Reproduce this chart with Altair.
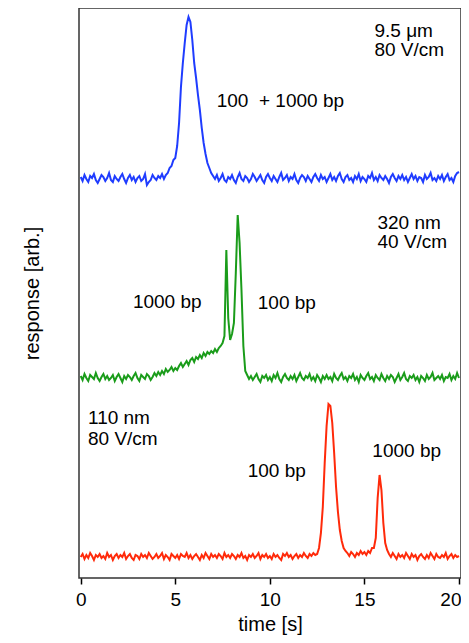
import altair as alt
import pandas as pd

# time grid (s), 0.0 .. 20.0 step 0.1
times = [round(i * 0.1, 1) for i in range(201)]

# 9.5 um, 80 V/cm  (blue, top trace)
blue_vals = [
    401, 397, 403, 399, 396, 402, 400, 404, 398, 395,
    399, 403, 401, 397, 400, 405, 398, 396, 402, 399,
    397, 401, 404, 399, 395, 400, 403, 398, 401, 396,
    400, 402, 397, 399, 404, 393, 396, 398, 403, 400,
    398, 402, 400, 404, 399, 403, 405, 410, 412, 418,
    420, 432, 455, 491, 515, 535, 553, 561, 556, 538,
    515, 500, 483, 468, 450, 435, 424, 415, 410, 405,
    402, 399, 403, 397, 400, 404, 398, 396, 401, 399,
    403, 398, 395, 401, 405, 399, 397, 402, 400, 396,
    399, 404, 401, 397, 400, 403, 398, 395, 401, 404,
    400, 397, 402, 399, 396, 401, 405, 398, 400, 403,
    397, 401, 399, 404, 398, 395, 400, 403, 401, 397,
    402, 399, 396, 401, 404, 400, 397, 403, 399, 401,
    396, 400, 404, 398, 401, 397, 402, 405, 399, 396,
    401, 403, 398, 400, 396, 402, 399, 404, 397, 401,
    399, 396, 402, 400, 405, 398, 401, 397, 403, 400,
    398, 402, 399, 395, 401, 404, 400, 397, 402, 399,
    403, 398, 401, 396, 400, 404, 399, 402, 397, 401,
    400, 396, 403, 399, 401, 405, 398, 400, 397, 402,
    399, 403, 397, 401, 404, 398, 400, 396, 402, 405,
    406,
]

# 320 nm, 40 V/cm  (green, middle trace)
green_vals = [
    202, 198, 204, 200, 197, 203, 201, 199, 205, 200,
    197, 201, 204, 199, 202, 198, 200, 203, 197, 201,
    204, 200, 196, 202, 199, 203, 201, 198, 202, 205,
    200, 197, 203, 201, 199, 204, 202, 198, 201, 205,
    202, 206, 203, 207, 204, 209, 206, 208, 211, 207,
    210, 208, 212, 215, 211, 214, 217, 213, 218, 220,
    216, 221, 219, 223, 220, 225, 222, 226, 224, 227,
    225, 229, 226, 230, 232, 235, 242, 328, 260, 238,
    244, 255, 305, 363, 335, 288, 232, 207, 203, 199,
    202, 198, 201, 204, 199, 196, 202, 200, 203, 198,
    201, 197, 203, 200, 205, 199, 196, 201, 204, 200,
    198, 202, 199, 203, 197, 201, 205, 200, 198, 202,
    200, 204, 198, 201, 197, 203, 200, 196, 202, 199,
    203, 199, 201, 197, 204, 200, 198, 202, 205, 199,
    201, 197, 202, 200, 204, 198, 201, 196, 203, 200,
    198, 202, 205, 199, 201, 197, 203, 200, 198, 204,
    200, 197, 202, 199, 203, 201, 196, 200, 204, 198,
    201, 205, 199, 197, 202, 200, 203, 198, 201, 196,
    202, 200, 197, 203, 199, 201, 205, 198, 200, 202,
    199, 203, 197, 201, 200, 204, 198, 202, 199, 205,
    200,
]

# 110 nm, 80 V/cm  (red, bottom trace)
red_vals = [
    21, 24, 19, 23, 20, 25, 22, 18, 23, 21,
    24, 20, 22, 19, 25, 21, 23, 18, 22, 24,
    20, 23, 21, 25, 19, 22, 24, 20, 18, 23,
    22, 19, 24, 21, 23, 20, 25, 22, 19, 21,
    24, 20, 22, 25, 19, 23, 21, 18, 24, 22,
    20, 23, 19, 24, 22, 21, 25, 20, 23, 19,
    22, 24, 21, 18, 23, 20, 25, 22, 19, 24,
    21, 23, 20, 24, 22, 19, 25, 21, 23, 20,
    24, 22, 19, 23, 21, 25, 20, 22, 18, 23,
    21, 24, 20, 22, 25, 19, 23, 21, 24, 20,
    22, 19, 24, 21, 23, 20, 18, 24, 22, 25,
    21, 23, 19, 22, 24, 20, 23, 21, 25, 22,
    20, 24, 22, 25, 23, 24, 30, 45, 71, 115,
    152, 174, 172, 155, 125, 91, 66, 48, 37, 30,
    27, 25, 22, 26, 24, 21, 25, 23, 27, 24,
    26, 23, 27, 25, 30, 30, 40, 80, 103, 88,
    55, 35, 28, 24, 21, 25, 22, 19, 24, 21,
    23, 20, 25, 22, 19, 24, 21, 23, 18, 22,
    24, 21, 19, 23, 20, 25, 22, 19, 24, 21,
    20, 23, 21, 25, 19, 22, 24, 20, 23, 21,
    22,
]

series_names = ["blue", "green", "red"]
series_colors = ["#1f3cff", "#1a9c1a", "#ff2a0a"]

# annotations
ann_text = ["9.5 μm", "80 V/cm", "100\u00a0\u00a0+ 1000 bp", "320 nm", "40 V/cm",
            "1000 bp", "100 bp", "110 nm", "80 V/cm", "100 bp", "1000 bp"]
ann_t = [15.53, 15.53, 7.19, 15.69, 15.69, 2.76, 9.36, 0.385, 0.385, 8.83, 15.42]
ann_v = [541, 522, 471, 349, 330, 270, 269, 154, 133, 101, 121]

x_tick_values = [0, 5, 10, 15, 20]

rows = []
for name, vals in zip(series_names, [blue_vals, green_vals, red_vals]):
    for t, v in zip(times, vals):
        rows.append({"time": t, "value": v, "series": name})
df = pd.DataFrame(rows)

xscale = alt.Scale(domain=[-0.09, 20.106], nice=False, zero=False)
yscale = alt.Scale(domain=[0, 570], nice=False, zero=False)

FONT = "Liberation Sans"

lines = alt.Chart(df).mark_line(strokeWidth=2, clip=True).encode(
    x=alt.X("time:Q", scale=xscale,
            axis=alt.Axis(title="time [s]", values=x_tick_values, format="d",
                          grid=False, domain=False, ticks=True, tickSize=6, tickWidth=1.5,
                          tickColor="black", labelFontSize=19, labelFont=FONT,
                          labelColor="black", labelPadding=6, labelFlush=False,
                          labelAlign={"condition": {"test": "datum.value == 20", "value": "right"},
                                      "value": "center"},
                          labelOffset={"condition": {"test": "datum.value == 20", "value": 2},
                                       "value": 0},
                          titleFontSize=20, titleFont=FONT, titleFontWeight="normal",
                          titleColor="black", titlePadding=5)),
    y=alt.Y("value:Q", scale=yscale,
            axis=alt.Axis(title="response [arb.]", labels=False, ticks=False, domain=False,
                          grid=False, titleFontSize=20, titleFont=FONT,
                          titleFontWeight="normal", titleColor="black", titlePadding=37)),
    color=alt.Color("series:N", scale=alt.Scale(domain=series_names, range=series_colors),
                    legend=None),
    detail="series:N",
)

ann_df = pd.DataFrame({"text": ann_text, "time": ann_t, "value": ann_v})
ann = alt.Chart(ann_df).mark_text(align="left", baseline="alphabetic", font=FONT,
                                  fontSize=19, color="black").encode(
    x=alt.X("time:Q", scale=xscale),
    y=alt.Y("value:Q", scale=yscale),
    text="text:N",
)

chart = alt.layer(lines, ann).properties(
    width=382, height=570,
    autosize=alt.AutoSizeParams(type="none"),
    padding={"left": 71, "top": 0, "right": 0, "bottom": 57},
    background="white",
).configure_view(stroke="#333333", strokeWidth=1.5)

chart.save("out.html", embed_options={"renderer": "svg", "actions": False})
